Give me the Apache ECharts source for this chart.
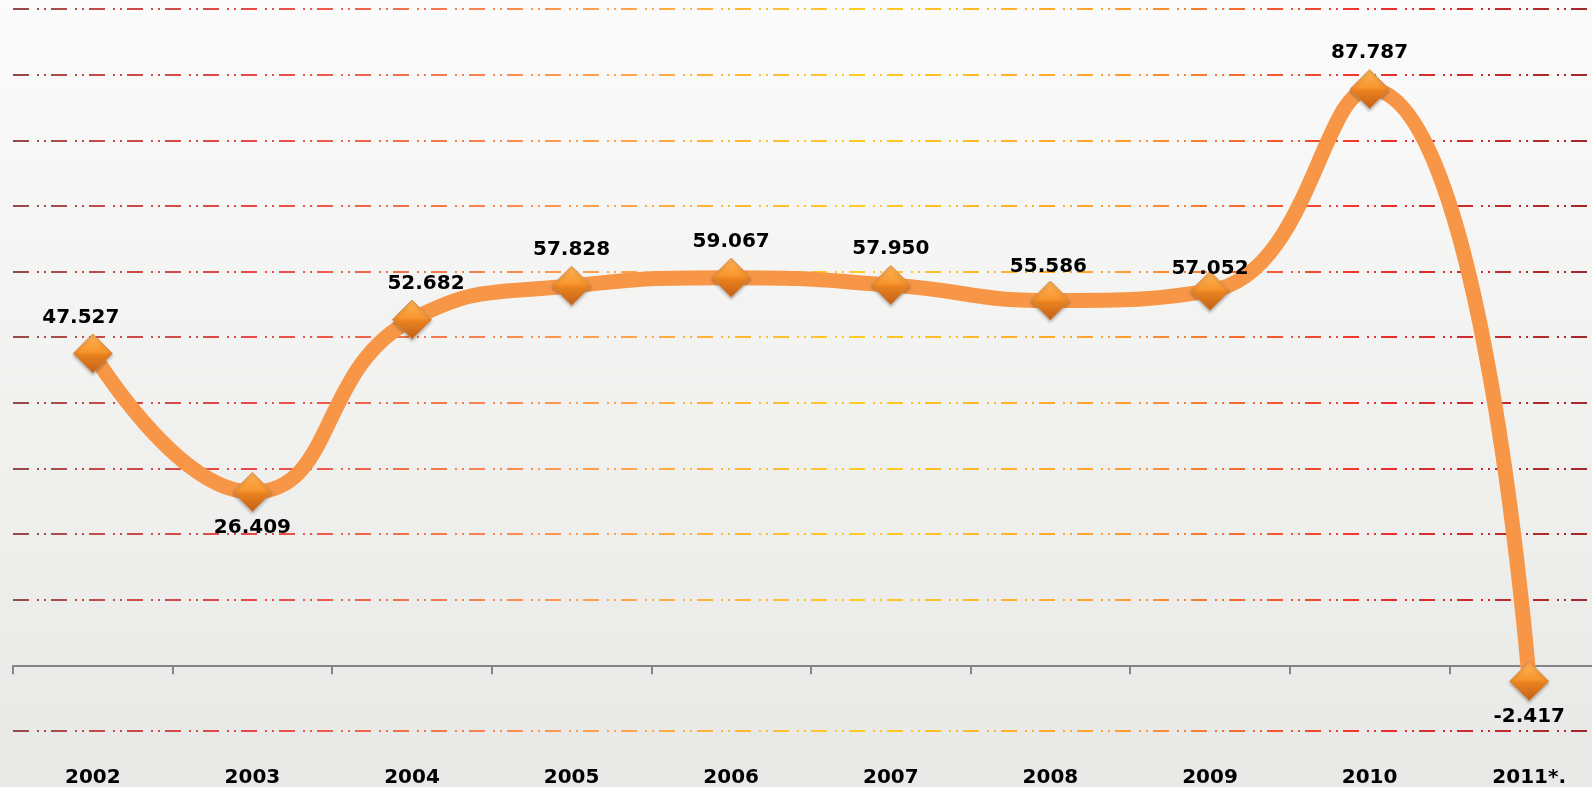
<!DOCTYPE html>
<html>
<head>
<meta charset="utf-8">
<script src="https://cdn.jsdelivr.net/npm/echarts@6/dist/echarts.min.js"></script>
<style>
  html, body { margin: 0; padding: 0; }
  #chart { width: 1592px; height: 787px; }
</style>
</head>
<body>
<div id="chart"></div>
<script>
// data
const years = ["2002", "2003", "2004", "2005", "2006", "2007", "2008", "2009", "2010", "2011*."];
const values = [47.527, 26.409, 52.682, 57.828, 59.067, 57.950, 55.586, 57.052, 87.787, -2.417];
const yTicks = [-10, 0, 10, 20, 30, 40, 50, 60, 70, 80, 90, 100];

// label placement tweaks (index -> position / offset)
const labelTweaks = {
  0: { offset: [-12, 0] },
  1: { position: "bottom" },
  2: { offset: [14, 0] },
  6: { offset: [-2, 2] },
  7: { offset: [0, 14] },
  9: { position: "bottom" },
};

const chart = echarts.init(document.getElementById("chart"));

// dash-dot-dot grid line colour runs dark red -> red -> orange -> yellow -> red
const gridColor = new echarts.graphic.LinearGradient(0, 0, 1592, 0, [
  { offset: 0, color: "#8a4a4a" },
  { offset: 0.06, color: "#c04c4c" },
  { offset: 0.16, color: "#e84848" },
  { offset: 0.36, color: "#ff9c50" },
  { offset: 0.54, color: "#ffcc22" },
  { offset: 0.7, color: "#ffa030" },
  { offset: 0.86, color: "#ee3030" },
  { offset: 1, color: "#a02828" },
], true);

const markerColor = new echarts.graphic.LinearGradient(0, 0, 0, 1, [
  { offset: 0, color: "#ffb657" },
  { offset: 0.45, color: "#f8962f" },
  { offset: 0.55, color: "#e8801e" },
  { offset: 1, color: "#c0611a" },
]);

const seriesData = values.map((v, i) => {
  const t = labelTweaks[i];
  return t ? { value: v, label: Object.assign({}, t) } : v;
});

chart.setOption({
  backgroundColor: new echarts.graphic.LinearGradient(0, 0, 0, 1, [
    { offset: 0, color: "#fbfbfb" },
    { offset: 1, color: "#e8e8e6" },
  ]),
  animation: false,
  // plot area runs past the right edge, as in the source picture
  grid: { left: 13, width: 1596, top: 9, height: 722, outerBoundsMode: "none" },
  xAxis: [
    {
      type: "category",
      data: years,
      axisLine: { onZero: true, lineStyle: { color: "#858585", width: 2 } },
      axisTick: { show: true, length: 9, lineStyle: { color: "#858585", width: 2 } },
      axisLabel: { show: false },
    },
    {
      type: "category",
      data: years,
      position: "bottom",
      axisLine: { show: false, onZero: false },
      axisTick: { show: false },
      axisLabel: {
        margin: 37,
        color: "#000",
        fontFamily: "DejaVu Sans",
        fontWeight: "bold",
        fontSize: 20,
      },
    },
  ],
  yAxis: {
    type: "value",
    min: yTicks[0],
    max: yTicks[yTicks.length - 1],
    interval: 10,
    axisLabel: { show: false },
    axisLine: { show: false },
    axisTick: { show: false },
    splitLine: {
      show: true,
      lineStyle: { color: gridColor, width: 2, type: [16, 8, 2, 5, 2, 5] },
    },
  },
  series: [
    {
      type: "line",
      xAxisIndex: 0,
      data: seriesData,
      smooth: 0.5,
      lineStyle: { color: "#f79646", width: 15 },
      symbol: "diamond",
      symbolSize: 39,
      itemStyle: {
        color: markerColor,
        borderColor: "#d98a4e",
        borderWidth: 1,
        shadowColor: "rgba(0,0,0,0.25)",
        shadowBlur: 3,
        shadowOffsetY: 2,
      },
      label: {
        show: true,
        position: "top",
        distance: 6,
        color: "#000",
        fontFamily: "DejaVu Sans",
        fontWeight: "bold",
        fontSize: 20,
        formatter: (p) => p.value.toFixed(3),
      },
      z: 3,
    },
  ],
});
</script>
</body>
</html>
